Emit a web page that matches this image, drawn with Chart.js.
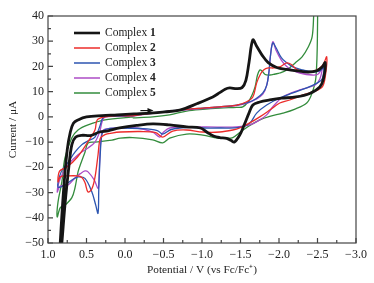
<!DOCTYPE html>
<html>
<head>
<meta charset="utf-8">
<script src="https://cdn.jsdelivr.net/npm/chart.js@4.4.0/dist/chart.umd.min.js"></script>
<style>
  html, body { margin: 0; padding: 0; background: #fff; }
  #wrap { width: 374px; height: 283px; }
</style>
</head>
<body>
<div id="wrap"><canvas id="cv"></canvas></div>
<script>
// Cyclic voltammograms, one closed loop per complex (potential in V, current in uA)
const names = ['1', '2', '3', '4', '5'];
const colors = ['#151515', '#ec2c2a', '#2c55b0', '#ac4cc6', '#338c3c'];

const c1V = [-0.12, -0.33, -0.52, -0.71, -0.94, -1.14, -1.23, -1.30, -1.36, -1.45, -1.52, -1.57, -1.61, -1.66, -1.71, -1.78, -1.86, -1.97, -2.10, -2.25, -2.38, -2.49, -2.56, -2.60,
  -2.58, -2.53, -2.40, -2.22, -2.03, -1.88, -1.75, -1.66, -1.61, -1.55, -1.49, -1.42, -1.38, -1.32, -1.23, -1.15, -1.07, -0.98, -0.80, -0.58, -0.36, -0.15, 0.07, 0.22, 0.33, 0.45, 0.56, 0.64, 0.69, 0.73, 0.78, 0.82, 0.85,
  0.86, 0.845, 0.80, 0.75, 0.71, 0.67, 0.61, 0.50, 0.30, 0.10, -0.12];
const c1I = [1.2, 1.5, 2.0, 2.7, 5.3, 7.9, 9.6, 11.0, 11.5, 11.2, 11.6, 14.5, 21.5, 30.5, 28.0, 24.5, 21.5, 19.6, 18.8, 18.2, 17.8, 18.3, 19.8, 21.5,
  15.4, 11.9, 9.3, 7.9, 7.4, 6.7, 5.9, 4.7, 1.5, -3.0, -7.2, -10.0, -9.4, -8.5, -8.2, -7.6, -6.2, -4.4, -4.0, -3.2, -2.8, -3.4, -4.4, -5.5, -6.0, -7.4, -7.3, -8.0, -11.0, -20.0, -35.0, -50.0, -60.0,
  -62, -52, -30, -13, -6, -2.5, -1.2, 0, 0.5, 0.8, 1.2];

const c2V = [-0.10, -0.36, -0.58, -0.80, -1.01, -1.23, -1.45, -1.58, -1.66, -1.71, -1.76, -1.80, -1.86, -1.93, -2.01, -2.10, -2.16, -2.23, -2.36, -2.49, -2.57, -2.62,
  -2.60, -2.56, -2.44, -2.31, -2.14, -2.01, -1.88, -1.75, -1.62, -1.49, -1.40, -1.23, -1.01, -0.80, -0.62, -0.49, -0.40, -0.20, 0.06, 0.17, 0.26, 0.32, 0.35, 0.39, 0.43, 0.48, 0.52, 0.56, 0.62, 0.74, 0.84, 0.87,
  0.85, 0.75, 0.62, 0.49, 0.39, 0.36, 0.26, 0.10, -0.10];
const c2I = [0.4, 1.5, 2.3, 3.0, 3.5, 4.0, 4.7, 6.0, 7.9, 13.5, 17.0, 18.6, 19.4, 19.4, 19.8, 21.4, 20.8, 18.8, 17.8, 18.6, 20.6, 23.8,
  15.8, 11.8, 9.9, 8.7, 6.7, 5.5, 2.7, 0.0, -2.4, -4.4, -5.2, -6.0, -6.0, -5.2, -5.6, -8.0, -6.2, -5.8, -6.0, -6.4, -7.0, -8.5, -15, -24, -28.5, -29.8, -26, -24, -23.4, -23.4, -23.8, -25.8,
  -21.5, -19.8, -16, -10.3, -5.2, -1.2, 0.0, 0.5, 0.4];

const c3V = [-0.10, -0.36, -0.58, -0.80, -1.01, -1.23, -1.45, -1.60, -1.70, -1.79, -1.84, -1.87, -1.89, -1.92, -1.96, -2.03, -2.10, -2.18, -2.31, -2.44, -2.53, -2.58,
  -2.56, -2.50, -2.36, -2.18, -2.01, -1.84, -1.71, -1.62, -1.49, -1.23, -1.01, -0.80, -0.60, -0.49, -0.42, -0.20, 0.06, 0.20, 0.27, 0.30, 0.32, 0.34, 0.35, 0.38, 0.43, 0.52, 0.61, 0.69, 0.78, 0.87,
  0.83, 0.74, 0.65, 0.56, 0.48, 0.39, 0.33, 0.29, 0.24, 0.10, -0.10];
const c3I = [0.4, 1.6, 2.4, 3.0, 3.5, 4.0, 4.7, 5.8, 7.2, 9.5, 12.5, 18, 24.5, 29.3, 27.5, 23.5, 21.5, 19.8, 18.6, 17.8, 18.2, 19.5,
  15, 13.5, 11.5, 9.5, 7.5, 4.7, 1.5, -2.5, -4.2, -4.4, -4.4, -4.2, -5.0, -6.8, -5.4, -4.6, -4.4, -4.6, -5.2, -7, -14, -28, -38.2, -35, -29.8, -24.4, -23.8, -25, -27, -27.8,
  -21.9, -18, -14, -11, -9.5, -8, -4, -0.5, 0.3, 0.3, 0.4];

const c4V = [-0.10, -0.36, -0.58, -0.80, -1.01, -1.23, -1.45, -1.60, -1.70, -1.79, -1.84, -1.87, -1.89, -1.92, -1.96, -2.03, -2.10, -2.17, -2.27, -2.43, -2.51, -2.56,
  -2.53, -2.47, -2.27, -2.05, -1.92, -1.84, -1.75, -1.62, -1.45, -1.01, -0.58, -0.49, -0.45, -0.36, -0.15, 0.06, 0.20, 0.28, 0.31, 0.33, 0.34, 0.35, 0.40, 0.48, 0.52, 0.58, 0.65, 0.74, 0.84, 0.88,
  0.84, 0.74, 0.61, 0.48, 0.39, 0.33, 0.29, 0.25, 0.10, -0.10];
const c4I = [0.3, 1.4, 2.2, 2.8, 3.3, 3.8, 4.5, 5.6, 7.0, 9.0, 12.5, 18, 24.5, 29.8, 26.5, 22.5, 20.0, 18.6, 17.4, 16.6, 17.0, 19.4,
  15, 12.7, 10.7, 7.9, 4.0, 0.8, -1.2, -3.2, -4.0, -4.0, -4.4, -6.4, -8.0, -6.0, -4.4, -4.4, -4.6, -5.2, -8, -18, -26, -28.4, -25, -21.8, -21.4, -22.5, -24.2, -27, -27.4, -29.8,
  -24.3, -19, -15, -12.3, -10, -6, -1.2, 0, 0.2, 0.3];

const c5V = [-0.10, -0.36, -0.58, -0.80, -1.01, -1.23, -1.45, -1.53, -1.60, -1.65, -1.69, -1.72, -1.75, -1.78, -1.82, -1.88, -1.95, -2.01, -2.10, -2.21, -2.30, -2.38, -2.43, -2.45, -2.47,
  -2.495, -2.50, -2.48, -2.43, -2.36, -2.20, -2.05, -1.88, -1.75, -1.60, -1.50, -1.40, -1.30, -1.20, -1.01, -0.80, -0.58, -0.49, -0.36, -0.10, 0.06, 0.17, 0.39, 0.48, 0.52, 0.58, 0.61, 0.65, 0.69, 0.78, 0.84, 0.88,
  0.87, 0.82, 0.78, 0.69, 0.61, 0.48, 0.26, -0.10];
const c5I = [-0.4, 0, 0.8, 2.3, 3.0, 3.5, 3.8, 4.0, 6.0, 8.7, 12.0, 16.5, 18.6, 18.2, 16.8, 16.6, 17.0, 17.4, 18.6, 21.4, 23.8, 27.7, 31.7, 40, 55,
  55, 35, 15.8, 9.5, 5.5, 3.0, 1.5, 0.2, -1.2, -3.8, -6.0, -8.2, -8.4, -8.4, -7.2, -6.8, -8.4, -10.3, -9.1, -8.2, -8.4, -9.2, -10, -10.4, -14, -19, -21.8, -28.2, -32, -35, -36, -39.7,
  -33.8, -25.8, -16.3, -8.3, -5.2, -3.2, -1.2, 0];

const xTicks = [1.0, 0.5, 0.0, -0.5, -1.0, -1.5, -2.0, -2.5, -3.0];
const yTicks = [40, 30, 20, 10, 0, -10, -20, -30, -40, -50];

const serif = '"Liberation Serif", "Times New Roman", serif';
const minus = s => s.replace('-', '\u2212');

const series = [[c1V, c1I], [c2V, c2I], [c3V, c3I], [c4V, c4I], [c5V, c5I]];
const datasets = series.map((s, k) => ({
  label: 'Complex ' + names[k],
  data: s[0].map((v, i) => ({ x: v, y: s[1][i] })),
  borderColor: colors[k],
  borderWidth: k === 0 ? 2.8 : 1.3,
  pointRadius: 0,
  showLine: true,
  tension: 0.35
}));

// frame, inward ticks, sweep arrow and legend
const decor = {
  id: 'decor',
  afterDatasetsDraw(chart) {
    const { ctx, chartArea: a, scales: { x, y } } = chart;
    ctx.save();
    ctx.strokeStyle = '#444';
    ctx.lineWidth = 1.2;
    ctx.strokeRect(a.left, a.top, a.right - a.left, a.bottom - a.top);
    ctx.beginPath();
    for (let v = -3; v <= 1.001; v += 0.25) {
      const px = x.getPixelForValue(v);
      const major = Math.abs(v * 2 - Math.round(v * 2)) < 1e-6;
      ctx.moveTo(px, a.bottom);
      ctx.lineTo(px, a.bottom - (major ? 5 : 3));
    }
    for (let v = -50; v <= 40; v += 5) {
      const py = y.getPixelForValue(v);
      ctx.moveTo(a.left, py);
      ctx.lineTo(a.left + (v % 10 === 0 ? 5 : 3), py);
    }
    ctx.stroke();

    // sweep direction arrow
    const ax0 = x.getPixelForValue(-0.2), ax1 = x.getPixelForValue(-0.37), ay = y.getPixelForValue(2.5);
    ctx.strokeStyle = '#111';
    ctx.fillStyle = '#111';
    ctx.lineWidth = 1.2;
    ctx.beginPath();
    ctx.moveTo(ax0, ay);
    ctx.lineTo(ax1 - 4, ay);
    ctx.stroke();
    ctx.beginPath();
    ctx.moveTo(ax1, ay);
    ctx.lineTo(ax1 - 6, ay - 2.5);
    ctx.lineTo(ax1 - 6, ay + 2.5);
    ctx.closePath();
    ctx.fill();

    // legend
    ctx.textBaseline = 'middle';
    ctx.fillStyle = '#222';
    names.forEach((n, k) => {
      const ly = a.top + 17 + k * 15;
      ctx.strokeStyle = colors[k];
      ctx.lineWidth = k === 0 ? 2.6 : 1.5;
      ctx.beginPath();
      ctx.moveTo(a.left + 26, ly);
      ctx.lineTo(a.left + 52, ly);
      ctx.stroke();
      ctx.font = '11.5px ' + serif;
      const t = 'Complex ';
      ctx.fillText(t, a.left + 57, ly);
      const w = ctx.measureText(t).width;
      ctx.font = 'bold 11.5px ' + serif;
      ctx.fillText(n, a.left + 57 + w, ly);
    });
    ctx.restore();
  }
};

new Chart(document.getElementById('cv'), {
  type: 'scatter',
  data: { datasets },
  options: {
    responsive: true,
    maintainAspectRatio: false,
    animation: false,
    layout: { padding: { top: 16, right: 18, left: 0, bottom: 0 } },
    plugins: { legend: { display: false }, tooltip: { enabled: false } },
    scales: {
      x: {
        type: 'linear', reverse: true, min: -3, max: 1,
        grid: { display: false, drawTicks: false },
        border: { display: false },
        afterBuildTicks: s => { s.ticks = xTicks.map(v => ({ value: v })); },
        ticks: {
          padding: 5, color: '#222', maxRotation: 0, autoSkip: false,
          font: { family: serif, size: 12 },
          callback: v => minus(v.toFixed(1))
        },
        title: {
          display: true, text: 'Potential / V (vs Fc/Fc\u207A)', color: '#222',
          font: { family: serif, size: 11.3 }, padding: { top: 0, bottom: 6 }
        },
        afterFit: s => { s.height = 40; }
      },
      y: {
        min: -50, max: 40,
        grid: { display: false, drawTicks: false },
        border: { display: false },
        afterBuildTicks: s => { s.ticks = yTicks.map(v => ({ value: v })); },
        ticks: {
          padding: 4, color: '#222',
          font: { family: serif, size: 12 },
          callback: v => minus(String(v))
        },
        title: {
          display: true, text: 'Current / \u03BCA', color: '#222',
          font: { family: serif, size: 11.3 }, padding: { top: 6, bottom: 0 }
        },
        afterFit: s => { s.width = 48; }
      }
    }
  },
  plugins: [decor]
});
</script>
</body>
</html>
